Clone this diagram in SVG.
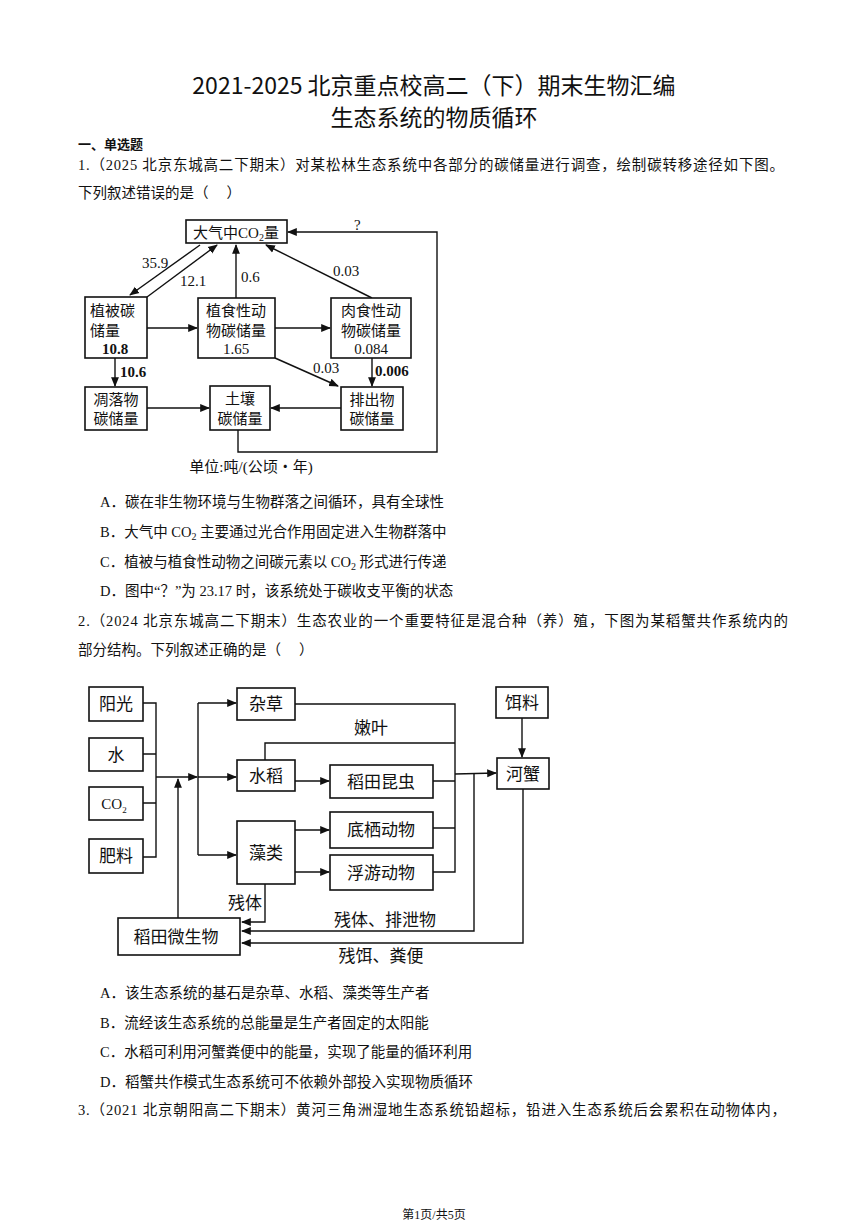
<svg xmlns="http://www.w3.org/2000/svg" width="868" height="1227" viewBox="0 0 868 1227">
<style>
text{font-family:"Liberation Serif","Noto Sans CJK SC",serif;fill:#111}
.b{font-size:14.5px}
.t{font-family:"Noto Sans CJK SC",sans-serif;font-size:23px;font-weight:400}
.n{font-size:15px}
.m{font-size:17px;font-family:"Noto Sans CJK SC",sans-serif}
rect{fill:#fff;stroke:#111;stroke-width:1.6}
.c path,.c line{fill:none;stroke:#111;stroke-width:1.4}
</style>
<defs><marker id="a" viewBox="0 0 10 10" refX="9" refY="5" markerWidth="7" markerHeight="7" orient="auto-start-reverse"><path d="M0,1 L10,5 L0,9 z" fill="#111"/></marker></defs>
<rect x="0" y="0" width="868" height="1227" style="stroke:none"/>
<text class="t" x="434" y="94" text-anchor="middle">2021-2025 北京重点校高二（下）期末生物汇编</text>
<text class="t" x="434" y="126" text-anchor="middle">生态系统的物质循环</text>
<text x="78" y="149" style="font-size:13px;font-weight:bold;font-family:'Noto Sans CJK SC',sans-serif">一、单选题</text>
<text class="b" x="78" y="170" textLength="706">1.（2025 北京东城高二下期末）对某松林生态系统中各部分的碳储量进行调查，绘制碳转移途径如下图。</text>
<text class="b" x="78" y="198" xml:space="preserve">下列叙述错误的是（     ）</text>
<g id="d1">
<g class="c">
<line x1="200" y1="245" x2="130" y2="295" marker-end="url(#a)"/>
<line x1="147" y1="297" x2="217" y2="245" marker-end="url(#a)"/>
<line x1="236" y1="298" x2="236" y2="245" marker-end="url(#a)"/>
<line x1="372" y1="298" x2="266" y2="245" marker-end="url(#a)"/>
<line x1="147" y1="328" x2="197" y2="328" marker-end="url(#a)"/>
<line x1="275" y1="328" x2="330" y2="328" marker-end="url(#a)"/>
<line x1="275" y1="358" x2="338" y2="386" marker-end="url(#a)"/>
<line x1="372" y1="358" x2="372" y2="386" marker-end="url(#a)"/>
<line x1="115" y1="358" x2="115" y2="386" marker-end="url(#a)"/>
<line x1="147" y1="408" x2="209" y2="408" marker-end="url(#a)"/>
<line x1="341" y1="408" x2="271" y2="408" marker-end="url(#a)"/>
<path d="M238,430 V452 H437 V232 H288" marker-end="url(#a)"/>
</g>
<g id="co2"><rect x="186" y="220" width="101" height="23"/><text class="n" x="236" y="238" text-anchor="middle">大气中CO<tspan font-size="10" dy="3">2</tspan><tspan dy="-3">量</tspan></text></g>
<g id="veg"><rect x="85" y="297" width="62" height="61"/><text class="n" x="90" y="316">植被碳</text><text class="n" x="90" y="336">储量</text><text class="n" x="102" y="354" font-weight="bold" font-size="13">10.8</text></g>
<g id="herb"><rect x="198" y="298" width="77" height="60"/><text class="n" x="236" y="316" text-anchor="middle">植食性动</text><text class="n" x="236" y="336" text-anchor="middle">物碳储量</text><text class="n" x="236" y="354" text-anchor="middle">1.65</text></g>
<g id="carn"><rect x="331" y="298" width="80" height="60"/><text class="n" x="371" y="316" text-anchor="middle">肉食性动</text><text class="n" x="371" y="336" text-anchor="middle">物碳储量</text><text class="n" x="371" y="354" text-anchor="middle">0.084</text></g>
<g id="litter"><rect x="85" y="387" width="62" height="43"/><text class="n" x="116" y="405" text-anchor="middle">凋落物</text><text class="n" x="116" y="424" text-anchor="middle">碳储量</text></g>
<g id="soil"><rect x="210" y="386" width="60" height="44"/><text class="n" x="240" y="404" text-anchor="middle">土壤</text><text class="n" x="240" y="424" text-anchor="middle">碳储量</text></g>
<g id="excr"><rect x="341" y="387" width="62" height="43"/><text class="n" x="372" y="405" text-anchor="middle">排出物</text><text class="n" x="372" y="424" text-anchor="middle">碳储量</text></g>
<text class="n" x="142" y="268">35.9</text><text class="n" x="180" y="286">12.1</text><text class="n" x="241" y="282">0.6</text>
<text class="n" x="333" y="276">0.03</text><text class="n" x="313" y="373">0.03</text>
<text class="n" x="375" y="376" font-weight="bold" font-size="13">0.006</text>
<text class="n" x="120" y="377" font-weight="bold" font-size="13">10.6</text>
<text class="n" x="354" y="230">?</text>
<text class="n" x="251" y="472" text-anchor="middle">单位:吨/(公顷・年)</text>
</g>
<text class="b" x="100" y="507">A．碳在非生物环境与生物群落之间循环，具有全球性</text>
<text class="b" x="100" y="537">B．大气中 CO<tspan font-size="10" dy="3">2</tspan><tspan dy="-3"> 主要通过光合作用固定进入生物群落中</tspan></text>
<text class="b" x="100" y="567">C．植被与植食性动物之间碳元素以 CO<tspan font-size="10" dy="3">2</tspan><tspan dy="-3"> 形式进行传递</tspan></text>
<text class="b" x="100" y="596">D．图中“？”为 23.17 时，该系统处于碳收支平衡的状态</text>
<text class="b" x="78" y="626" textLength="710">2.（2024 北京东城高二下期末）生态农业的一个重要特征是混合种（养）殖，下图为某稻蟹共作系统内的</text>
<text class="b" x="78" y="655" xml:space="preserve">部分结构。下列叙述正确的是（     ）</text>
<g id="d2">
<g class="c">
<path d="M143,703 H156 V857 H143 M143,754 H156 M143,803 H156"/>
<line x1="156" y1="777" x2="197" y2="777" marker-end="url(#a)"/>
<path d="M198,703 V855"/>
<line x1="198" y1="703" x2="236" y2="703" marker-end="url(#a)"/>
<line x1="198" y1="777" x2="236" y2="777" marker-end="url(#a)"/>
<line x1="198" y1="855" x2="236" y2="855" marker-end="url(#a)"/>
<line x1="178" y1="918" x2="178" y2="779" marker-end="url(#a)"/>
<line x1="295" y1="781" x2="329" y2="781" marker-end="url(#a)"/>
<line x1="295" y1="830" x2="329" y2="830" marker-end="url(#a)"/>
<line x1="295" y1="872" x2="329" y2="872" marker-end="url(#a)"/>
<path d="M295,704 H455 V872 H433 M265,760 V743 H455 M433,781 H455 M433,828 H455"/>
<line x1="455" y1="774" x2="496" y2="773" marker-end="url(#a)"/>
<line x1="522" y1="718" x2="522" y2="757" marker-end="url(#a)"/>
<path d="M474,773 V931 H242" marker-end="url(#a)"/>
<path d="M523,789 V943 H242" marker-end="url(#a)"/>
<path d="M265,884 V922 H242" marker-end="url(#a)"/>
</g>
<g id="sun"><rect x="89" y="687" width="54" height="34"/><text class="m" x="116" y="710" text-anchor="middle">阳光</text></g>
<g id="water"><rect x="89" y="738" width="54" height="33"/><text class="m" x="116" y="761" text-anchor="middle">水</text></g>
<g id="co2b"><rect x="89" y="787" width="54" height="33"/><text class="m" x="114" y="809" text-anchor="middle" style="font-family:'Liberation Serif',serif;font-size:15px">CO<tspan font-size="9" dy="4">2</tspan></text></g>
<g id="fert"><rect x="89" y="839" width="54" height="34"/><text class="m" x="116" y="862" text-anchor="middle">肥料</text></g>
<g id="weed"><rect x="237" y="688" width="58" height="32"/><text class="m" x="266" y="710" text-anchor="middle">杂草</text></g>
<g id="rice"><rect x="237" y="760" width="58" height="31"/><text class="m" x="266" y="782" text-anchor="middle">水稻</text></g>
<g id="algae"><rect x="237" y="821" width="58" height="63"/><text class="m" x="266" y="859" text-anchor="middle">藻类</text></g>
<g id="insect"><rect x="330" y="765" width="103" height="33"/><text class="m" x="381" y="788" text-anchor="middle">稻田昆虫</text></g>
<g id="benthic"><rect x="330" y="812" width="103" height="36"/><text class="m" x="381" y="836" text-anchor="middle">底栖动物</text></g>
<g id="plank"><rect x="330" y="855" width="103" height="35"/><text class="m" x="381" y="879" text-anchor="middle">浮游动物</text></g>
<g id="feed"><rect x="496" y="687" width="52" height="31"/><text class="m" x="522" y="709" text-anchor="middle">饵料</text></g>
<g id="crab"><rect x="497" y="758" width="52" height="31"/><text class="m" x="523" y="780" text-anchor="middle">河蟹</text></g>
<g id="micro"><rect x="118" y="918" width="122" height="37"/><text class="m" x="176" y="943" text-anchor="middle">稻田微生物</text></g>
<text class="m" x="371" y="734" text-anchor="middle">嫩叶</text>
<text class="m" x="245" y="909" text-anchor="middle">残体</text>
<text class="m" x="385" y="926" text-anchor="middle">残体、排泄物</text>
<text class="m" x="381" y="962" text-anchor="middle">残饵、粪便</text>
</g>
<text class="b" x="100" y="998">A．该生态系统的基石是杂草、水稻、藻类等生产者</text>
<text class="b" x="100" y="1028">B．流经该生态系统的总能量是生产者固定的太阳能</text>
<text class="b" x="100" y="1057">C．水稻可利用河蟹粪便中的能量，实现了能量的循环利用</text>
<text class="b" x="100" y="1087">D．稻蟹共作模式生态系统可不依赖外部投入实现物质循环</text>
<text class="b" x="78" y="1115" textLength="708">3.（2021 北京朝阳高二下期末）黄河三角洲湿地生态系统铅超标，铅进入生态系统后会累积在动物体内，</text>
<text x="434" y="1219" text-anchor="middle" style="font-size:12px">第1页/共5页</text>
</svg>
